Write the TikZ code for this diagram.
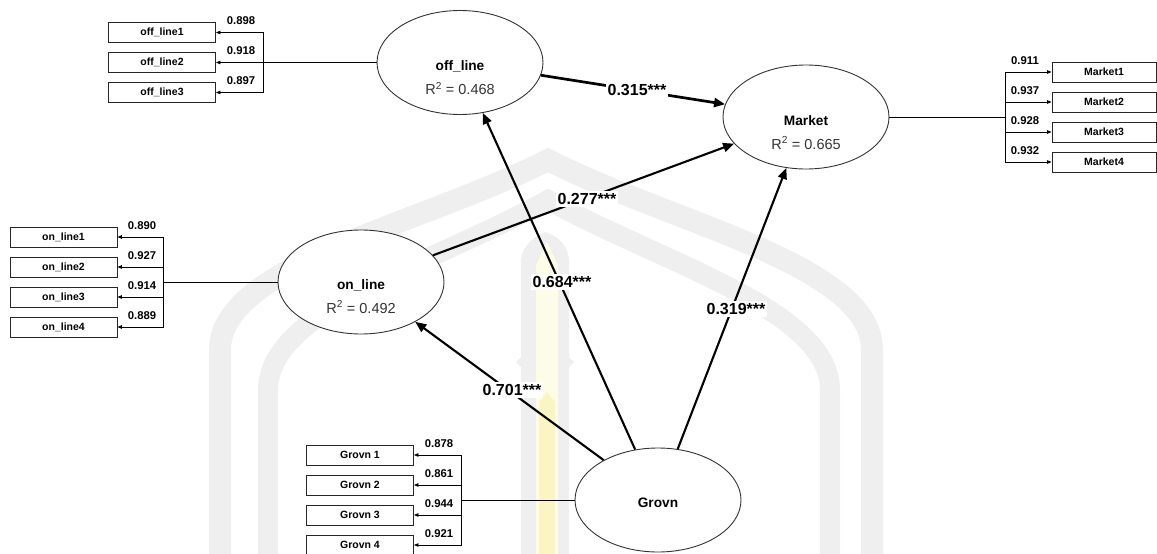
\documentclass[tikz,border=0pt]{standalone}
\usepackage{fontspec}
\setmainfont{Liberation Sans}
\usetikzlibrary{shapes.geometric,arrows.meta}

\definecolor{wmgray}{RGB}{239,239,239}
\definecolor{wmyellow}{RGB}{253,252,230}
\definecolor{wmyellowdeep}{RGB}{251,245,196}

\begin{document}
\begin{tikzpicture}[x=1pt,y=-1pt,
  latent/.style={draw=black!80, line width=0.9pt, fill=white, ellipse,
    minimum width=166pt, minimum height=104pt, inner sep=0pt},
  lvname/.style={font=\fontsize{13.7}{14}\selectfont\bfseries, inner sep=0pt, anchor=base},
  lvrsq/.style={font=\fontsize{14.5}{15}\selectfont, text=black!80, inner sep=0pt, anchor=base},
  indbox/.style={draw=black!85, line width=0.9pt, fill=white, minimum width=107pt,
    minimum height=20pt, inner sep=0pt, font=\fontsize{10.5}{11}\selectfont\bfseries},
  loading/.style={font=\fontsize{11.3}{12}\selectfont\bfseries, inner sep=0pt},
  indline/.style={line width=0.8pt, -{Triangle[length=4.5pt,width=3.5pt]}},
  busline/.style={line width=0.8pt},
  effect/.style={line width=2.1pt, -{Triangle[length=11pt,width=9pt]}},
  coef/.style={fill=white, inner sep=2pt, font=\fontsize{16}{16}\selectfont\bfseries},
]
\useasboundingbox (0,0) rectangle (1157,554);

% faint arch emblem in the background
\begin{scope}
  \clip (0,0) rectangle (1157,554);
  \draw[wmgray, line width=22pt, line join=miter]
    (220,580) -- (220,350) .. controls (220,265) and (420,225) .. (548,160)
    .. controls (676,225) and (872,265) .. (872,350) -- (872,580);
  \draw[wmgray, line width=20pt, line join=miter]
    (268,580) -- (268,390) .. controls (268,310) and (430,265) .. (548,200)
    .. controls (666,265) and (830,310) .. (830,390) -- (830,580);
  \fill[wmgray] (521,580) -- (521,262) .. controls (521,246) and (535,236) .. (545,232)
    .. controls (559,236) and (569,246) .. (569,262) -- (569,580) -- cycle;
  \fill[wmgray] (545,335) -- (574,362) -- (545,392) -- (516,362) -- cycle;
  \fill[wmyellow] (536,580) -- (536,265) -- (547,242) -- (558,265) -- (558,580) -- cycle;
  \fill[wmyellowdeep] (539,580) -- (539,402) -- (547,392) -- (555,402) -- (555,580) -- cycle;
\end{scope}

% latent variables
\node[latent] (offline) at (460,62.5) {};
\node[latent] (market)  at (806,117) {};
\node[latent] (online)  at (361,282) {};
\node[latent] (grovn)   at (658,500) {};

\node[lvname] (offline-name) at (460,70.5) {off\_line};
\node[lvrsq]  (offline-r2)   at (460,94.5) {R\textsuperscript{2} = 0.468};
\node[lvname] (market-name)  at (806,125) {Market};
\node[lvrsq]  (market-r2)    at (806,149) {R\textsuperscript{2} = 0.665};
\node[lvname] (online-name)  at (361,289) {on\_line};
\node[lvrsq]  (online-r2)    at (361,313) {R\textsuperscript{2} = 0.492};
\node[lvname] (grovn-name)   at (658,507) {Grovn};

% indicators of off_line
\node[indbox] (ol1) at (162,32.5) {off\_line1};
\node[indbox] (ol2) at (162,62.5) {off\_line2};
\node[indbox] (ol3) at (162,92.5) {off\_line3};
\coordinate (olbus) at (263,62.5);
\draw[busline] (offline) -- (olbus);
\draw[indline] (olbus) |- (ol1);
\draw[indline] (olbus) -- (ol2);
\draw[indline] (olbus) |- (ol3);
\node[loading] (ol1-w) at (241,21) {0.898};
\node[loading] (ol2-w) at (241,51) {0.918};
\node[loading] (ol3-w) at (241,81) {0.897};

% indicators of Market
\node[indbox, minimum width=104pt] (mk1) at (1104,72) {Market1};
\node[indbox, minimum width=104pt] (mk2) at (1104,102) {Market2};
\node[indbox, minimum width=104pt] (mk3) at (1104,132) {Market3};
\node[indbox, minimum width=104pt] (mk4) at (1104,162) {Market4};
\coordinate (mkbus) at (1005,117);
\draw[busline] (market) -- (mkbus);
\draw[indline] (mkbus) |- (mk1);
\draw[indline] (mkbus) |- (mk2);
\draw[indline] (mkbus) |- (mk3);
\draw[indline] (mkbus) |- (mk4);
\node[loading] (mk1-w) at (1025,61) {0.911};
\node[loading] (mk2-w) at (1025,91) {0.937};
\node[loading] (mk3-w) at (1025,121) {0.928};
\node[loading] (mk4-w) at (1025,151) {0.932};

% indicators of on_line
\node[indbox] (on1) at (63.5,237) {on\_line1};
\node[indbox] (on2) at (63.5,267) {on\_line2};
\node[indbox] (on3) at (63.5,297) {on\_line3};
\node[indbox] (on4) at (63.5,327) {on\_line4};
\coordinate (onbus) at (163,282);
\draw[busline] (online) -- (onbus);
\draw[indline] (onbus) |- (on1);
\draw[indline] (onbus) |- (on2);
\draw[indline] (onbus) |- (on3);
\draw[indline] (onbus) |- (on4);
\node[loading] (on1-w) at (142,225.5) {0.890};
\node[loading] (on2-w) at (142,255.5) {0.927};
\node[loading] (on3-w) at (142,285.5) {0.914};
\node[loading] (on4-w) at (142,315.5) {0.889};

% indicators of Grovn
\node[indbox] (gr1) at (360,455) {Grovn 1};
\node[indbox] (gr2) at (360,485) {Grovn 2};
\node[indbox] (gr3) at (360,515) {Grovn 3};
\node[indbox] (gr4) at (360,545) {Grovn 4};
\coordinate (grbus) at (461,500);
\draw[busline] (grovn) -- (grbus);
\draw[indline] (grbus) |- (gr1);
\draw[indline] (grbus) |- (gr2);
\draw[indline] (grbus) |- (gr3);
\draw[indline] (grbus) |- (gr4);
\node[loading] (gr1-w) at (439,444) {0.878};
\node[loading] (gr2-w) at (439,474) {0.861};
\node[loading] (gr3-w) at (439,504) {0.944};
\node[loading] (gr4-w) at (439,534) {0.921};

% structural paths
\draw[effect, line width=2.7pt] (offline) -- (market);
\draw[effect] (online) -- (market);
\draw[effect] (grovn) -- (offline);
\draw[effect] (grovn) -- (online);
\draw[effect] (grovn) -- (market);

\node[coef] (c-offline-market) at (637,90)  {0.315***};
\node[coef] (c-online-market)  at (587,199) {0.277***};
\node[coef] (c-grovn-offline)  at (562,282) {0.684***};
\node[coef] (c-grovn-online)   at (512,390) {0.701***};
\node[coef] (c-grovn-market)   at (736,309) {0.319***};
\end{tikzpicture}
\end{document}
